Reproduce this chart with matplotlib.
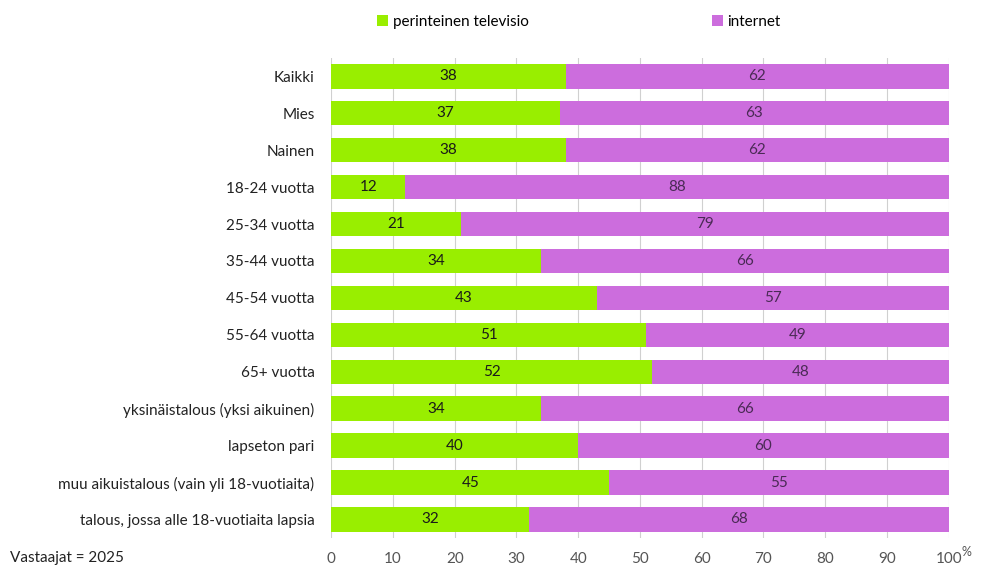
import matplotlib.pyplot as plt
import numpy as np

plt.rcParams['font.family'] = ['Lato', 'DejaVu Sans']

# data
categories = ['Kaikki', 'Mies', 'Nainen', '18-24 vuotta', '25-34 vuotta',
              '35-44 vuotta', '45-54 vuotta', '55-64 vuotta', '65+ vuotta',
              'yksinäistalous (yksi aikuinen)', 'lapseton pari',
              'muu aikuistalous (vain yli 18-vuotiaita)',
              'talous, jossa alle 18-vuotiaita lapsia']
tv = [38, 37, 38, 12, 21, 34, 43, 51, 52, 34, 40, 45, 32]
internet = [62, 63, 62, 88, 79, 66, 57, 49, 48, 66, 60, 55, 68]
series_names = ['perinteinen televisio', 'internet']
xticks = [0, 10, 20, 30, 40, 50, 60, 70, 80, 90, 100]

green = '#99ee00'
purple = '#cc6ddd'

fig = plt.figure(figsize=(9.83, 5.68), dpi=100)
ax = fig.add_axes([0.337, 0.053, 0.628, 0.845])

y = np.arange(len(categories))
b1 = ax.barh(y, tv, height=0.66, color=green, label=series_names[0], zorder=2)
b2 = ax.barh(y, internet, left=tv, height=0.66, color=purple, label=series_names[1], zorder=2)

for i in range(len(categories)):
    ax.text(tv[i] / 2, y[i], str(tv[i]), ha='center', va='center',
            fontsize=11, color='#1a1a1a', zorder=3)
    ax.text(tv[i] + internet[i] / 2, y[i], str(internet[i]), ha='center', va='center',
            fontsize=11, color='#4a2a55', zorder=3)

ax.set_xlim(0, 100)
ax.set_ylim(len(categories) - 0.5, -0.5)
ax.set_yticks(y)
ax.set_yticklabels(categories, fontsize=11, color='#222222')
ax.set_xticks(xticks)
ax.set_xticklabels([str(t) for t in xticks], fontsize=11, color='#555555')
ax.tick_params(axis='both', length=0, pad=10)
ax.tick_params(axis='y', pad=12)
ax.grid(axis='x', color='#d0d0d0', linewidth=0.8, zorder=0)
for s in ax.spines.values():
    s.set_visible(False)

fig.text(0.978, 0.018, '%', fontsize=9, color='#555555', ha='left', va='bottom')
fig.text(0.01, 0.005, 'Vastaajat = 2025', fontsize=11, color='#222222', ha='left', va='bottom')

# legend placed manually at top
fig.legend(handles=[b1, b2], labels=series_names, loc='upper left',
           bbox_to_anchor=(0.37, 0.998), ncol=2, frameon=False, fontsize=11,
           handlelength=0.7, handleheight=0.7, handletextpad=0.3, columnspacing=12)

fig.savefig('out.png', dpi=100)
